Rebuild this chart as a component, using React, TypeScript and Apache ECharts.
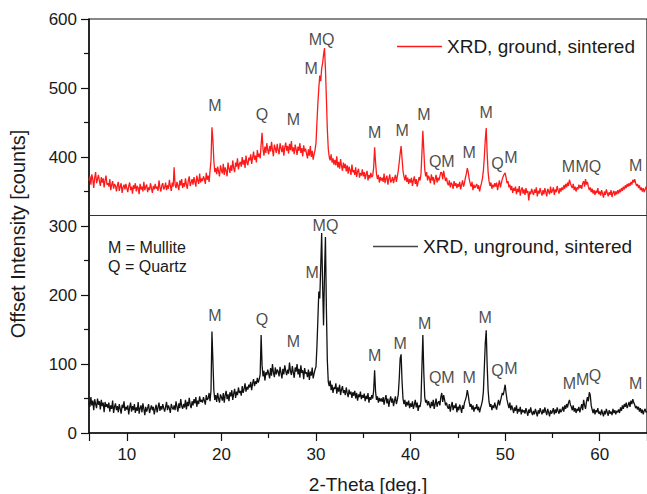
import React, { useEffect, useRef } from "react";
import * as echarts from "echarts";

// 2-theta sampling: each row covers one degree (d.0 .. d.9), first row starts at 6.0
const X_START = 6;
const X_STEP = 0.1;

// XRD, ground, sintered (offset intensity, counts)
const groundRows: number[][] = [
  [366, 372, 360, 375, 368, 355, 370, 378, 362, 368], // 6
  [374, 365, 358, 371, 363, 369, 356, 366, 373, 360], // 7
  [362, 357, 368, 352, 360, 365, 354, 361, 358, 350], // 8
  [359, 364, 351, 357, 362, 348, 356, 360, 353, 361], // 9
  [355, 349, 358, 363, 352, 357, 347, 359, 354, 362], // 10
  [350, 358, 355, 346, 361, 353, 357, 350, 364, 352], // 11
  [357, 360, 349, 356, 352, 362, 355, 348, 358, 353], // 12
  [361, 354, 357, 351, 366, 356, 350, 359, 362, 353], // 13
  [356, 363, 352, 359, 354, 367, 358, 351, 363, 357], // 14
  [385, 360, 355, 364, 358, 352, 366, 359, 368, 355], // 15
  [362, 357, 369, 360, 354, 366, 372, 358, 363, 368], // 16
  [360, 371, 364, 357, 373, 366, 361, 376, 363, 369], // 17
  [365, 372, 368, 361, 377, 367, 373, 364, 380, 395], // 18
  [443, 425, 395, 378, 384, 375, 386, 379, 372, 388], // 19
  [381, 376, 390, 374, 385, 380, 372, 392, 383, 377], // 20
  [388, 380, 395, 384, 378, 392, 386, 398, 382, 390], // 21
  [393, 386, 400, 389, 396, 384, 402, 392, 388, 399], // 22
  [395, 404, 390, 399, 408, 396, 402, 392, 410, 400], // 23
  [405, 398, 418, 435, 412, 402, 415, 406, 420, 410], // 24
  [404, 416, 408, 422, 410, 401, 418, 412, 406, 419], // 25
  [410, 404, 420, 413, 407, 417, 402, 414, 421, 409], // 26
  [416, 405, 419, 410, 423, 408, 414, 404, 418, 411], // 27
  [403, 415, 409, 420, 406, 413, 401, 417, 408, 412], // 28
  [405, 398, 411, 402, 416, 400, 409, 396, 404, 410], // 29
  [420, 450, 478, 500, 518, 510, 528, 536, 548, 558], // 30
  [528, 485, 440, 412, 400, 395, 404, 392, 398, 389], // 31
  [396, 388, 401, 385, 393, 383, 397, 387, 380, 392], // 32
  [384, 390, 379, 388, 376, 386, 381, 374, 389, 378], // 33
  [381, 374, 385, 371, 379, 383, 370, 377, 373, 382], // 34
  [372, 378, 368, 375, 380, 366, 374, 369, 377, 371], // 35
  [373, 385, 414, 392, 375, 368, 374, 363, 371, 366], // 36
  [370, 364, 376, 362, 369, 373, 360, 368, 375, 363], // 37
  [366, 371, 362, 369, 374, 364, 372, 380, 392, 405], // 38
  [416, 398, 380, 372, 366, 374, 364, 370, 361, 368], // 39
  [363, 370, 358, 366, 372, 361, 368, 357, 364, 371], // 40
  [366, 375, 405, 438, 410, 382, 372, 378, 366, 373], // 41
  [369, 362, 375, 366, 371, 360, 368, 374, 363, 370], // 42
  [366, 372, 378, 377, 368, 380, 372, 365, 370, 362], // 43
  [359, 366, 356, 363, 360, 354, 365, 358, 362, 355], // 44
  [361, 357, 364, 353, 360, 366, 357, 362, 370, 376], // 45
  [384, 378, 368, 362, 357, 364, 352, 360, 355, 358], // 46
  [361, 354, 359, 350, 357, 362, 369, 380, 400, 425], // 47
  [442, 405, 378, 365, 358, 363, 354, 360, 356, 362], // 48
  [357, 363, 352, 360, 366, 356, 362, 368, 372, 375], // 49
  [377, 370, 362, 365, 356, 360, 352, 358, 348, 355], // 50
  [351, 357, 346, 354, 349, 358, 344, 352, 356, 347], // 51
  [353, 345, 355, 348, 351, 337, 350, 346, 354, 349], // 52
  [345, 353, 348, 356, 343, 351, 347, 355, 349, 344], // 53
  [352, 346, 355, 349, 343, 354, 350, 346, 357, 348], // 54
  [351, 356, 345, 353, 349, 358, 352, 347, 355, 350], // 55
  [356, 352, 359, 354, 361, 356, 363, 358, 367, 362], // 56
  [358, 355, 361, 352, 357, 350, 356, 353, 360, 355], // 57
  [359, 354, 362, 365, 357, 368, 360, 364, 357, 352], // 58
  [356, 349, 354, 347, 352, 345, 351, 348, 355, 346], // 59
  [350, 344, 352, 347, 341, 350, 345, 353, 348, 343], // 60
  [349, 345, 352, 342, 348, 351, 344, 350, 346, 352], // 61
  [347, 353, 349, 355, 351, 357, 353, 359, 355, 361], // 62
  [357, 362, 358, 364, 360, 367, 363, 368, 362, 358], // 63
  [361, 355, 359, 352, 356, 350, 355, 349, 353, 357], // 64
  [352], // 65
];

// XRD, unground, sintered (counts)
const ungroundRows: number[][] = [
  [45, 38, 52, 40, 47, 33, 49, 42, 36, 50], // 6
  [41, 46, 34, 48, 39, 44, 30, 45, 38, 42], // 7
  [36, 44, 31, 40, 35, 47, 29, 38, 43, 33], // 8
  [39, 30, 42, 35, 28, 41, 36, 46, 32, 38], // 9
  [34, 40, 27, 37, 44, 31, 39, 33, 42, 29], // 10
  [37, 32, 45, 28, 36, 40, 30, 43, 35, 26], // 11
  [38, 31, 36, 42, 29, 35, 40, 33, 38, 27], // 12
  [35, 41, 30, 37, 44, 32, 39, 34, 42, 36], // 13
  [31, 38, 45, 33, 40, 36, 29, 42, 37, 34], // 14
  [40, 33, 46, 38, 31, 43, 36, 49, 39, 35], // 15
  [42, 37, 48, 34, 45, 39, 51, 41, 36, 46], // 16
  [40, 49, 43, 52, 38, 47, 42, 53, 45, 48], // 17
  [44, 52, 47, 41, 55, 48, 50, 58, 46, 62], // 18
  [147, 105, 62, 48, 55, 45, 58, 50, 44, 56], // 19
  [52, 47, 58, 44, 55, 61, 49, 56, 46, 59], // 20
  [53, 62, 48, 57, 64, 51, 60, 55, 66, 58], // 21
  [61, 54, 68, 58, 64, 72, 60, 67, 63, 70], // 22
  [66, 74, 62, 72, 78, 68, 75, 71, 80, 73], // 23
  [78, 85, 142, 98, 82, 90, 76, 88, 84, 92], // 24
  [86, 79, 94, 83, 100, 88, 81, 95, 85, 92], // 25
  [89, 82, 96, 87, 79, 93, 85, 98, 90, 84], // 26
  [92, 86, 102, 90, 84, 97, 88, 80, 95, 89], // 27
  [100, 85, 93, 80, 98, 87, 91, 78, 94, 86], // 28
  [88, 81, 92, 77, 89, 83, 95, 79, 86, 92], // 29
  [96, 125, 165, 205, 195, 240, 290, 215, 156, 230], // 30
  [284, 180, 105, 74, 68, 76, 62, 70, 58, 66], // 31
  [64, 72, 57, 66, 60, 70, 55, 63, 68, 58], // 32
  [62, 55, 66, 58, 52, 63, 56, 60, 51, 59], // 33
  [54, 61, 50, 58, 47, 56, 52, 60, 49, 55], // 34
  [51, 57, 46, 54, 49, 58, 44, 52, 48, 55], // 35
  [50, 62, 91, 60, 48, 53, 44, 51, 46, 50], // 36
  [45, 52, 41, 49, 55, 43, 50, 38, 47, 53], // 37
  [44, 50, 39, 47, 53, 42, 48, 56, 78, 108], // 38
  [114, 75, 50, 42, 48, 38, 45, 40, 47, 36], // 39
  [43, 38, 46, 35, 41, 48, 37, 44, 32, 40], // 40
  [38, 46, 95, 142, 88, 52, 44, 48, 40, 46], // 41
  [41, 36, 45, 39, 48, 35, 42, 50, 38, 44], // 42
  [46, 40, 52, 58, 45, 55, 48, 40, 44, 38], // 43
  [35, 42, 31, 39, 45, 33, 40, 36, 43, 30], // 44
  [38, 33, 41, 36, 29, 40, 35, 44, 48, 53], // 45
  [62, 55, 45, 38, 42, 34, 40, 31, 37, 35], // 46
  [42, 33, 38, 30, 36, 41, 47, 60, 95, 130], // 47
  [149, 98, 62, 45, 38, 42, 33, 40, 36, 44], // 48
  [38, 34, 42, 48, 40, 46, 52, 58, 55, 62], // 49
  [70, 58, 48, 42, 36, 44, 33, 40, 35, 29], // 50
  [37, 32, 40, 28, 35, 31, 38, 27, 34, 30], // 51
  [33, 28, 36, 31, 25, 34, 29, 37, 30, 26], // 52
  [32, 27, 35, 30, 24, 33, 28, 36, 31, 27], // 53
  [34, 29, 37, 31, 26, 35, 30, 24, 33, 28], // 54
  [31, 36, 27, 34, 29, 37, 32, 28, 35, 30], // 55
  [33, 38, 31, 40, 35, 42, 37, 44, 48, 41], // 56
  [38, 33, 40, 31, 36, 29, 35, 32, 38, 30], // 57
  [36, 42, 33, 48, 40, 35, 45, 52, 46, 59], // 58
  [55, 40, 34, 29, 35, 27, 33, 30, 36, 28], // 59
  [31, 26, 34, 29, 24, 32, 27, 35, 30, 25], // 60
  [33, 28, 31, 26, 35, 29, 33, 27, 32, 30], // 61
  [34, 29, 37, 32, 40, 35, 42, 38, 44, 36], // 62
  [40, 45, 38, 47, 42, 49, 44, 41, 36, 39], // 63
  [34, 38, 31, 36, 29, 34, 27, 32, 35, 30], // 64
  [31], // 65
];

// peak annotations [2-theta, counts, text]
const groundPeakLabels: [number, number, string][] = [
  [19.3, 475, "M"],
  [24.3, 462, "Q"],
  [27.6, 455, "M"],
  [29.5, 528, "M"],
  [30.6, 570, "MQ"],
  [36.2, 435, "M"],
  [39.1, 438, "M"],
  [41.4, 461, "M"],
  [43.3, 393, "QM"],
  [46.2, 406, "M"],
  [48.0, 464, "M"],
  [49.2, 391, "Q"],
  [50.6, 400, "M"],
  [56.7, 386, "M"],
  [58.8, 386, "MQ"],
  [63.8, 388, "M"],
];

const ungroundPeakLabels: [number, number, string][] = [
  [19.3, 170, "M"],
  [24.3, 165, "Q"],
  [27.6, 133, "M"],
  [29.6, 232, "M"],
  [31.0, 301, "MQ"],
  [36.2, 113, "M"],
  [38.9, 129, "M"],
  [41.5, 159, "M"],
  [43.3, 80, "QM"],
  [46.2, 81, "M"],
  [47.9, 168, "M"],
  [49.2, 90, "Q"],
  [50.6, 94, "M"],
  [56.8, 72, "M"],
  [58.2, 77, "M"],
  [59.5, 84, "Q"],
  [63.8, 72, "M"],
];

const SERIES_NAMES = ["XRD, ground, sintered", "XRD, unground, sintered"];
const PANEL_DIVIDER = 316;
const KEY_LINES = ["M = Mullite", "Q = Quartz"];
const X_TITLE = "2-Theta [deg.]";
const Y_TITLE = "Offset Intensity [counts]";

const FONT = "'Liberation Sans', Arial, Helvetica, sans-serif";
const INK = "#1a1a1a";
const RED = "#ff1a1a";

function toPairs(rows: number[][]): [number, number][] {
  const out: [number, number][] = [];
  rows.forEach((row, r) => {
    row.forEach((v, i) => {
      out.push([+(X_START + r + i * X_STEP).toFixed(2), v]);
    });
  });
  return out;
}

export default function App() {
  const ref = useRef<HTMLDivElement>(null);

  useEffect(() => {
    if (!ref.current) return;
    const chart = echarts.init(ref.current, undefined, { renderer: "svg" });

    const labelSeries = (data: [number, number, string][]) => ({
      type: "scatter",
      silent: true,
      symbolSize: 1,
      itemStyle: { color: "rgba(0,0,0,0)" },
      data,
      label: {
        show: true,
        position: "inside",
        formatter: (p: any) => p.data[2],
        fontFamily: FONT,
        fontSize: 16,
        color: INK,
      },
      z: 5,
    });

    chart.setOption({
      animation: false,
      backgroundColor: "#ffffff",
      grid: {
        left: 89,
        top: 19,
        right: -3,
        bottom: 61,
        show: true,
        borderColor: "#111",
        borderWidth: 1.2,
      },
      xAxis: {
        type: "value",
        min: 6,
        max: 65,
        axisLine: { show: true, onZero: false, lineStyle: { color: "#111", width: 1.5 } },
        axisTick: { show: true, inside: false, length: 8, lineStyle: { color: "#111", width: 1.2 } },
        minorTick: { show: true, splitNumber: 2, length: 5, lineStyle: { color: "#111", width: 1.2 } },
        splitLine: { show: false },
        axisLabel: {
          margin: 13,
          fontFamily: FONT,
          fontSize: 17,
          color: INK,
          customValues: [10, 20, 30, 40, 50, 60],
        },
        customValues: [10, 20, 30, 40, 50, 60],
      },
      yAxis: {
        type: "value",
        min: 0,
        max: 600,
        interval: 100,
        axisLine: { show: true, lineStyle: { color: "#111", width: 1.5 } },
        axisTick: { show: true, inside: false, length: 8, lineStyle: { color: "#111", width: 1.2 } },
        minorTick: { show: true, splitNumber: 2, length: 5, lineStyle: { color: "#111", width: 1.2 } },
        splitLine: { show: false },
        axisLabel: { margin: 12, fontFamily: FONT, fontSize: 17, color: INK },
      },
      legend: [
        {
          data: [{ name: SERIES_NAMES[0], icon: "rect", itemStyle: { color: RED } }],
          left: 397,
          top: 37,
          padding: 0,
          itemWidth: 45,
          itemHeight: 1.3,
          textStyle: { fontFamily: FONT, fontSize: 19, color: INK },
          selectedMode: false,
        },
        {
          data: [{ name: SERIES_NAMES[1], icon: "rect", itemStyle: { color: "#444" } }],
          left: 373,
          top: 237,
          padding: 0,
          itemWidth: 45,
          itemHeight: 1.3,
          textStyle: { fontFamily: FONT, fontSize: 19, color: INK },
          selectedMode: false,
        },
      ],
      series: [
        {
          name: SERIES_NAMES[0],
          type: "line",
          symbol: "none",
          silent: true,
          data: toPairs(groundRows),
          lineStyle: { color: RED, width: 1.3 },
          itemStyle: { color: RED },
          markLine: {
            silent: true,
            symbol: "none",
            label: { show: false },
            lineStyle: { color: "#333", width: 1, type: "solid" },
            data: [{ yAxis: PANEL_DIVIDER }],
          },
          z: 3,
        },
        {
          name: SERIES_NAMES[1],
          type: "line",
          symbol: "none",
          silent: true,
          data: toPairs(ungroundRows),
          lineStyle: { color: "#111", width: 1.3 },
          itemStyle: { color: "#111" },
          z: 3,
        },
        labelSeries(groundPeakLabels),
        labelSeries(ungroundPeakLabels),
      ],
      graphic: [
        {
          type: "text",
          left: 108,
          top: 238,
          style: {
            text: KEY_LINES.join("\n"),
            fontFamily: FONT,
            fontSize: 16,
            lineHeight: 19,
            fill: INK,
          },
        },
        {
          type: "text",
          x: 18,
          y: 234,
          rotation: Math.PI / 2,
          style: {
            text: Y_TITLE,
            fontFamily: FONT,
            fontSize: 20,
            fill: INK,
            align: "center",
            verticalAlign: "middle",
          },
        },
        {
          type: "text",
          x: 368,
          y: 484,
          style: {
            text: X_TITLE,
            fontFamily: FONT,
            fontSize: 19,
            fill: INK,
            align: "center",
            verticalAlign: "middle",
          },
        },
      ],
    });

    return () => chart.dispose();
  }, []);

  return (
    <div
      ref={ref}
      style={{ position: "fixed", left: 0, top: 0, width: 647, height: 494, background: "#fff" }}
    />
  );
}
